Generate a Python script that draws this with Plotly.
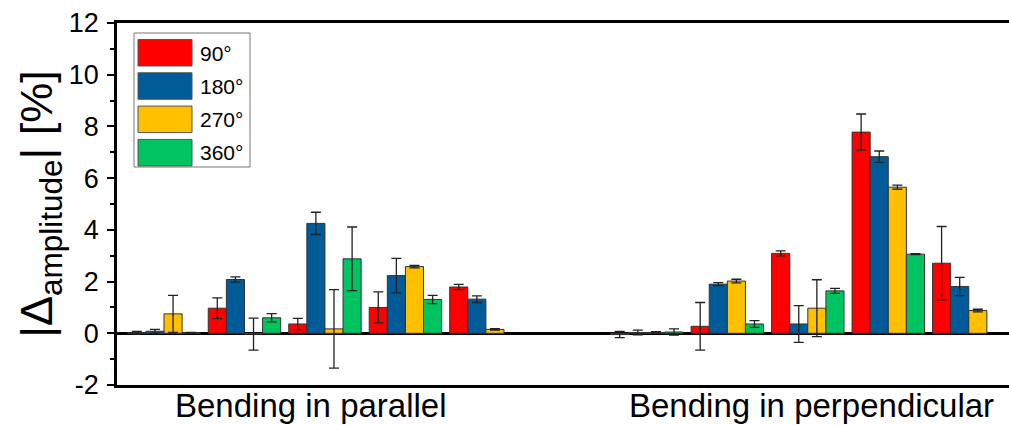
import plotly.graph_objects as go

# subgroup positions along the x axis (5 per bending mode)
positions = [0, 1, 2, 3, 4, 6, 7, 8, 9, 10]
group_labels = ["Bending in parallel", "Bending in perpendicular"]
group_label_pos = [1.83, 8.04]

angles = ["90°", "180°", "270°", "360°"]
colors = ["#FF0000", "#005B98", "#FFC000", "#00C462"]

v90 = [0.02, 0.97, 0.36, 1.00, 1.79, -0.05, 0.27, 3.09, 7.78, 2.71]
e90 = [0.05, 0.40, 0.22, 0.60, 0.10, 0.12, 0.92, 0.10, 0.70, 1.42]
v180 = [0.08, 2.08, 4.25, 2.23, 1.32, 0.03, 1.90, 0.36, 6.83, 1.81]
e180 = [0.07, 0.10, 0.43, 0.67, 0.13, 0.09, 0.06, 0.71, 0.22, 0.35]
v270 = [0.75, -0.03, 0.17, 2.58, 0.15, 0.03, 2.02, 0.97, 5.65, 0.88]
e270 = [0.72, 0.62, 1.52, 0.05, 0.03, 0.03, 0.07, 1.10, 0.08, 0.05]
v360 = [0.02, 0.60, 2.88, 1.31, None, 0.05, 0.36, 1.64, 3.06, None]
e360 = [0.01, 0.16, 1.23, 0.16, None, 0.12, 0.13, 0.10, 0.02, None]

y_ticks = [-2, 0, 2, 4, 6, 8, 10, 12]
y_ticktext = ["-2", "0", "2", "4", "6", "8", "10", "12"]

values = [v90, v180, v270, v360]
errors = [e90, e180, e270, e360]

W, H = 1009, 425
ML, MR, MT, MB = 117, 0, 23, 40
PW, PH = W - ML - MR, H - MT - MB


def px_x(p):
    return (p - ML) / PW


def px_y(p):
    return (H - MB - p) / PH


fig = go.Figure()
for name, col, v, e in zip(angles, colors, values, errors):
    fig.add_trace(go.Bar(
        x=positions, y=v, name=name, showlegend=False,
        marker=dict(color=col, line=dict(color="#333333", width=1)),
        error_y=dict(type="data", array=e, visible=True,
                     color="#222222", thickness=1.3, width=5),
    ))

# legend box drawn in paper space
shapes = [dict(type="rect", xref="paper", yref="paper",
               x0=px_x(134), x1=px_x(250), y0=px_y(167), y1=px_y(33),
               line=dict(color="#777777", width=1), fillcolor="white", layer="above")]
annotations = []
for i, (name, col) in enumerate(zip(angles, colors)):
    top = 39.5 + i * 33.3
    shapes.append(dict(type="rect", xref="paper", yref="paper",
                       x0=px_x(138), x1=px_x(192), y0=px_y(top + 26.5), y1=px_y(top),
                       line=dict(color="#555555", width=1), fillcolor=col, layer="above"))
    annotations.append(dict(xref="paper", yref="paper", x=px_x(198), y=px_y(top + 13.5),
                            xanchor="left", yanchor="middle", text=name, showarrow=False,
                            font=dict(size=21, color="black")))

for lbl, pos in zip(group_labels, group_label_pos):
    annotations.append(dict(xref="x", yref="paper", x=pos, y=px_y(405),
                            xanchor="center", yanchor="middle", text=lbl, showarrow=False,
                            font=dict(size=33, color="black")))

fig.update_layout(
    width=W, height=H,
    margin=dict(l=ML, r=MR, t=MT, b=MB),
    barmode="group", bargap=0.1, bargroupgap=0,
    plot_bgcolor="white", paper_bgcolor="white",
    font=dict(family="Liberation Sans, Arial, sans-serif", color="black"),
    showlegend=False,
    shapes=shapes, annotations=annotations,
)
fig.update_xaxes(
    range=[-0.584, 10.5], showgrid=False, zeroline=False,
    showline=True, linecolor="black", linewidth=2.5, mirror=True,
    showticklabels=False, ticks="",
)
fig.update_yaxes(
    range=[-2, 12], tickvals=y_ticks, ticktext=y_ticktext, showgrid=False,
    zeroline=True, zerolinecolor="black", zerolinewidth=3,
    showline=True, linecolor="black", linewidth=2.5, mirror=False,
    ticks="outside", ticklen=7, tickwidth=2, tickcolor="black",
    ticklabelstandoff=3,
    minor=dict(dtick=1, ticks="outside", ticklen=4, tickwidth=2, tickcolor="black"),
    tickfont=dict(size=27),
    title=dict(text="|Δ<sub>amplitude</sub>| [%]", font=dict(size=45), standoff=2),
)

fig.write_html("out.html", config={"displayModeBar": False},
               post_script="document.body.style.margin='0';")
